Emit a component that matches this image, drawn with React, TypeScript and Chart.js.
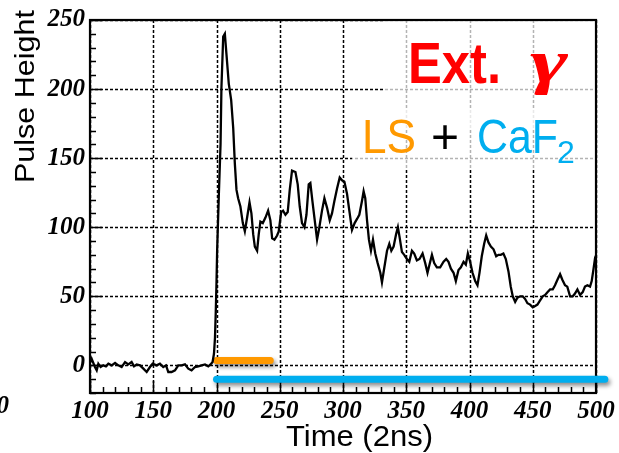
import React, { useEffect, useRef } from 'react';
import { Chart, registerables } from 'chart.js';

Chart.register(...registerables);

const xTicks = [100, 150, 200, 250, 300, 350, 400, 450, 500];
const yTicks = [0, 50, 100, 150, 200, 250];

const timeValues = [
  100, 101.3, 103.9, 105.3, 106.6, 108.4, 110.5, 112.6, 114.5, 117.1, 119.8, 122.4, 125, 127.7, 130.3,
  132.9, 134.8, 136.9, 139.5, 142.2, 144.8, 147.4, 149.5, 152.7, 155.3, 157.9, 160.1, 161.9, 164.5,
  167.2, 169.8, 172.4, 175.1, 177.7, 180.3, 183, 185.6, 188.2, 190.9, 193.5, 195.3, 196.9, 198,
  198.8, 199.4, 200, 200.5, 201.8, 203.2, 203.9, 205.3, 206.6, 207.9, 209.7, 211.6, 213.2, 214.5,
  215.8, 217.1, 218.9, 220.8, 222.4, 224.2, 226.1, 227.6, 229, 230.3, 232.1, 233.4, 234.7, 236.6,
  238.7, 240.8, 242.6, 244, 245.8, 247.9, 249.2, 251.1, 252.6, 254.5, 256.3, 257.9, 259.7, 262.4,
  264.2, 265.8, 267.6, 269.5, 271.1, 272.9, 274.2, 275.8, 277.4, 279.5, 281.3, 283.4, 285.3, 287.4,
  289.5, 291.3, 293.2, 295.3, 297.4, 299.2, 301.1, 303.2, 305, 307.1, 309.2, 311.1, 312.9, 315,
  316.3, 317.6, 319, 320.5, 322.1, 323.7, 325.5, 327.4, 329.5, 330.8, 332.7, 334.8, 336.6, 338.2,
  340, 342, 343.4, 344.7, 346.6, 348.4, 350.5, 352.4, 354.5, 356.3, 358.4, 360.5, 362.9, 365,
  366.8, 368.4, 370.3, 372.1, 374.2, 376.8, 379.5, 381.6, 383.4, 385.3, 387.4, 389.2, 391.3, 393.2,
  395.3, 397.1, 398.7, 400.5, 402.4, 404.5, 406.3, 407.9, 409.7, 411.6, 413.2, 415, 416.9, 419,
  421.1, 422.9, 424.7, 426.8, 428.7, 430.8, 432.6, 434.2, 436.1, 437.9, 440, 442.1, 444, 445.8,
  447.9, 450, 451.9, 453.7, 455.8, 457.9, 459.8, 461.6, 463.7, 465.8, 467.6, 469.5, 471.6, 473.4,
  475.5, 477.3, 479.5, 481.6, 483.4, 485.3, 487.4, 489.5, 491.3, 493.2, 495.3, 496.6, 497.9, 499, 500,
];

const pulseHeights = [
  2, 4.8, -1.2, -3.6, 1.2, -1.2, 0, -0.7, 1.2, 0, 1.7, 0, -1.2, 2.4, 0.7,
  2.4, -0.7, 0.7, 0, -2.4, -4.8, -1.2, 1.2, 0, 1.2, -1.2, 0, -4.8, -4.8,
  -3.6, 0, 0, 0.7, -2.4, -3.6, -1.2, -0.7, 0, 0.7, -0.7, 0.7, 2.4, 8.4,
  20, 38, 60, 83, 122, 160, 201, 238, 240, 225, 204, 192, 172, 146,
  127, 121, 115, 103, 97, 107, 118, 110, 95, 86, 83, 95, 104, 103,
  107, 112, 105, 92, 91, 94, 97, 111, 112, 109, 111, 127, 141, 140,
  131, 115, 103, 100, 109, 131, 132, 119, 107, 91, 100, 112, 121, 114,
  105, 110, 119, 128, 136, 134, 133, 124, 112, 98, 103, 106, 109, 119,
  126, 121, 105, 91, 83, 91, 81, 74, 67, 60, 71, 83, 88, 83,
  86, 95, 100, 93, 82, 80, 77, 75, 83, 81, 76, 77, 81, 74,
  67, 73, 80, 74, 71, 71, 75, 77, 75, 70, 67, 61, 69, 71,
  75, 73, 81, 75, 67, 61, 58, 67, 79, 88, 94, 89, 86, 84,
  79, 80, 80, 81, 77, 68, 57, 50, 46, 49, 50, 50, 48, 45,
  44, 42, 43, 44, 47, 50, 51, 53, 55, 55, 58, 62, 66, 62,
  58, 57, 50, 50, 52, 55, 51, 53, 57, 58, 57, 61, 69, 76, 73,
];

const lsBarX = [200, 242.5];
const lsBarY = [3.6, 3.6];
const caf2BarX = [200, 507];
const caf2BarY = [-10, -10];

const ORANGE = '#ff9900';
const CYAN = '#00aeef';

function drawFitted(
  ctx: CanvasRenderingContext2D,
  text: string,
  x: number,
  y: number,
  font: string,
  color: string,
  targetWidth?: number
) {
  ctx.save();
  ctx.font = font;
  ctx.fillStyle = color;
  ctx.textAlign = 'left';
  ctx.textBaseline = 'alphabetic';
  ctx.translate(x, y);
  if (targetWidth) {
    const w = ctx.measureText(text).width;
    ctx.scale(targetWidth / w, 1);
  }
  ctx.fillText(text, 0, 0);
  ctx.restore();
}

const decorPlugin = {
  id: 'decor',
  beforeDatasetsDraw(chart: any) {
    const { ctx, chartArea } = chart;
    const { left, right, top, bottom } = chartArea;
    const xs = chart.scales.x;
    const ys = chart.scales.y;
    ctx.save();
    ctx.strokeStyle = '#000';
    ctx.lineWidth = 1.5;
    ctx.setLineDash([3, 2]);
    ctx.beginPath();
    for (const v of xTicks) {
      const px = Math.round(xs.getPixelForValue(v)) + 0.5;
      ctx.moveTo(px, top);
      ctx.lineTo(px, bottom);
    }
    for (const v of yTicks) {
      const py = Math.round(ys.getPixelForValue(v)) + 0.5;
      ctx.moveTo(left, py);
      ctx.lineTo(right, py);
    }
    ctx.stroke();
    ctx.setLineDash([]);
    ctx.fillStyle = 'rgba(255,255,255,0.7)';
    ctx.fillRect(385, top + 1, right - 385 - 1, 108);
    ctx.fillRect(352, 110, right - 352 - 1, 58);
    ctx.lineWidth = 1.5;
    ctx.beginPath();
    for (let v = 100; v <= 500; v += 10) {
      const px = Math.round(xs.getPixelForValue(v)) + 0.5;
      const len = v % 50 === 0 ? 12 : 6;
      ctx.moveTo(px, bottom);
      ctx.lineTo(px, bottom - len);
    }
    for (let v = -20; v <= 250; v += 10) {
      const py = Math.round(ys.getPixelForValue(v)) + 0.5;
      const len = v % 50 === 0 ? 12 : 6;
      ctx.moveTo(left, py);
      ctx.lineTo(left + len, py);
    }
    ctx.stroke();
    ctx.lineWidth = 2.2;
    ctx.strokeRect(left, top, right - left, bottom - top);
    ctx.restore();
  },
  beforeDatasetDraw(chart: any, args: any) {
    if (args.index > 0) {
      const ctx = chart.ctx;
      ctx.save();
      ctx.shadowColor = 'rgba(0,0,0,0.45)';
      ctx.shadowBlur = 4;
      ctx.shadowOffsetX = 2;
      ctx.shadowOffsetY = 3;
    }
  },
  afterDatasetDraw(chart: any, args: any) {
    if (args.index > 0) chart.ctx.restore();
  },
  afterDraw(chart: any) {
    const ctx = chart.ctx as CanvasRenderingContext2D;
    drawFitted(ctx, 'Time (2ns)', 286, 446, "29px 'Liberation Sans'", '#000', 147);
    ctx.save();
    ctx.translate(34, 183);
    ctx.rotate(-Math.PI / 2);
    drawFitted(ctx, 'Pulse Height', 0, 0, "28px 'Liberation Sans'", '#000', 173);
    ctx.restore();
    ctx.save();
    ctx.font = "italic bold 25px 'Liberation Serif'";
    ctx.fillStyle = '#000';
    ctx.textAlign = 'right';
    ctx.textBaseline = 'middle';
    ctx.fillText('0', 9, 407);
    ctx.restore();
    drawFitted(ctx, 'Ext.', 408, 83, "bold 57px 'Liberation Sans'", '#ff0000', 93);
    drawFitted(ctx, 'γ', 530, 82, "italic bold 62px 'Liberation Serif'", '#ff0000', 38);
    drawFitted(ctx, 'LS', 362, 153, "49px 'Liberation Sans'", ORANGE, 54);
    drawFitted(ctx, '+', 431, 153, "48px 'Liberation Sans'", '#000');
    drawFitted(ctx, 'CaF', 477, 153, "49px 'Liberation Sans'", CYAN, 81);
    drawFitted(ctx, '2', 557, 163, "32px 'Liberation Sans'", CYAN);
  },
};

export default function App() {
  const canvasRef = useRef<HTMLCanvasElement>(null);

  useEffect(() => {
    document.body.style.margin = '0';
    const canvas = canvasRef.current!;
    const chart = new Chart(canvas, {
      type: 'line',
      data: {
        datasets: [
          {
            label: 'Pulse',
            data: timeValues.map((t, i) => ({ x: t, y: pulseHeights[i] })),
            borderColor: '#000',
            borderWidth: 2.3,
            pointRadius: 0,
            tension: 0,
            fill: false,
          },
          {
            label: 'LS',
            data: lsBarX.map((t, i) => ({ x: t, y: lsBarY[i] })),
            borderColor: ORANGE,
            borderWidth: 7,
            borderCapStyle: 'round',
            pointRadius: 0,
            clip: false as any,
          },
          {
            label: 'CaF2',
            data: caf2BarX.map((t, i) => ({ x: t, y: caf2BarY[i] })),
            borderColor: CYAN,
            borderWidth: 7,
            borderCapStyle: 'round',
            pointRadius: 0,
            clip: false as any,
          },
        ],
      },
      options: {
        animation: false,
        responsive: false,
        maintainAspectRatio: false,
        layout: { padding: { left: 0, top: 18, right: 23, bottom: 0 } },
        plugins: { legend: { display: false }, tooltip: { enabled: false } },
        scales: {
          x: {
            type: 'linear',
            min: 100,
            max: 500,
            afterBuildTicks: (scale: any) => {
              scale.ticks = xTicks.map((v) => ({ value: v }));
            },
            afterFit: (scale: any) => {
              scale.height = 60;
            },
            grid: { display: false, drawTicks: false },
            border: { display: false },
            ticks: {
              color: '#000',
              padding: 4,
              maxRotation: 0,
              autoSkip: false,
              font: { family: 'Liberation Serif', size: 25, style: 'italic', weight: 'bold' },
            },
          },
          y: {
            type: 'linear',
            min: -20,
            max: 250,
            afterBuildTicks: (scale: any) => {
              scale.ticks = yTicks.map((v) => ({ value: v }));
            },
            afterFit: (scale: any) => {
              scale.width = 90;
            },
            grid: { display: false, drawTicks: false },
            border: { display: false },
            ticks: {
              color: '#000',
              padding: 5,
              autoSkip: false,
              font: { family: 'Liberation Serif', size: 25, style: 'italic', weight: 'bold' },
            },
          },
        },
      },
      plugins: [decorPlugin],
    });
    return () => chart.destroy();
  }, []);

  return (
    <div style={{ position: 'absolute', left: 0, top: 0, width: 619, height: 453 }}>
      <canvas ref={canvasRef} width={619} height={453} />
    </div>
  );
}
